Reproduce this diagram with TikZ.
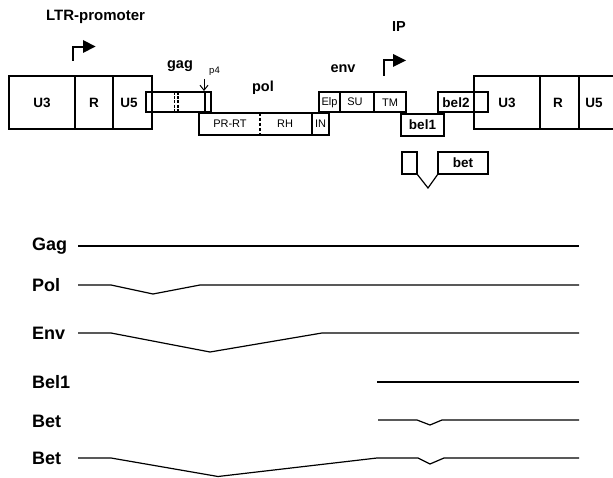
\documentclass[tikz,border=0pt]{standalone}
\usepackage{fontspec}
\setmainfont{Liberation Sans}
\usetikzlibrary{arrows.meta}
\tikzset{
  ln/.style={line width=1.2pt, line join=miter},
  bx/.style={line width=1.2pt},
  big/.style={font=\fontsize{15}{17}\selectfont\bfseries, inner sep=0pt},
  lab/.style={font=\fontsize{14.5}{17}\selectfont\bfseries, inner sep=0pt},
  blab/.style={font=\fontsize{13.5}{16}\selectfont\bfseries, inner sep=0pt},
  slab/.style={font=\fontsize{11}{13}\selectfont, inner sep=0pt},
  rowlab/.style={font=\fontsize{18}{20}\selectfont\bfseries, inner sep=0pt, anchor=west},
  tri/.style={fill=black, draw=none}
}
\begin{document}
\begin{tikzpicture}[x=1pt, y=-1pt]
\useasboundingbox (0,0) rectangle (613,478);
% ---- top labels
\node[big] (ltrp) at (95.5,17) {LTR-promoter};
\node[lab] (ipl) at (399,27) {IP};
\node[lab] (gagl) at (180,66) {gag};
\node[lab] (poll) at (263,88) {pol};
\node[lab] (envl) at (343,69) {env};
\node[font=\fontsize{9.5}{11}\selectfont, inner sep=0pt] (p4) at (214.5,71) {p4};
% ---- promoter arrows
\draw[ln] (73,61) -- (73,47) -- (84,47);
\fill[tri] (83,40) -- (95.5,46.5) -- (83,53) -- cycle;
\draw[ln] (384,76) -- (384,60) -- (394,60);
\fill[tri] (393,54) -- (406,60.5) -- (393,67) -- cycle;
% ---- left LTR
\draw[bx] (9,76) rectangle (152,129);
\draw[bx] (75,76) -- (75,129);
\draw[bx] (113,76) -- (113,129);
\node[blab] (u3a) at (42,102.5) {U3};
\node[blab] (ra) at (94,102.5) {R};
\node[blab] (u5a) at (129,102.5) {U5};
% ---- gag box
\draw[bx] (146,92) rectangle (211,112);
\draw[bx] (205,92) -- (205,112);
\draw[line width=1.1pt, dash pattern=on 3pt off 1.2pt] (174.5,92) -- (174.5,112);
\draw[line width=1.1pt, dash pattern=on 3pt off 1.2pt] (178,92) -- (178,112);
% p4 arrow
\coordinate (p4top) at (204,79);
\coordinate (p4tip) at (204,91);
\draw[line width=1pt, -{Straight Barb[length=5pt, width=8pt]}] (p4top) -- (p4tip);
% ---- pol box
\draw[bx] (199,113) rectangle (329,135);
\draw[line width=1.1pt, dash pattern=on 3pt off 2pt] (260,113) -- (260,135);
\draw[bx] (312,113) -- (312,135);
\node[slab] (prrt) at (230,124) {PR-RT};
\node[slab] (rh) at (285,124) {RH};
\node[slab] (in) at (320.5,124) {IN};
% ---- env box
\draw[bx] (319,92) rectangle (406,112);
\draw[bx] (340,92) -- (340,112);
\draw[bx] (374,92) -- (374,112);
\node[slab] (elp) at (329.5,102.5) {Elp};
\node[slab] (su) at (355,101.5) {SU};
\node[slab] (tm) at (390,102.5) {TM};
% ---- bel1, bel2
\draw[bx] (401,114) rectangle (444,136);
\node[blab] (bel1) at (422.5,125) {bel1};
\draw[bx] (438,92) rectangle (488,112);
\node[blab] (bel2) at (456,102.5) {bel2};
% ---- right LTR
\draw[bx] (614,76) -- (474,76) -- (474,129) -- (614,129);
\draw[bx] (540,76) -- (540,129);
\draw[bx] (579,76) -- (579,129);
\node[blab] (u3b) at (507,102.5) {U3};
\node[blab] (rb) at (558,102.5) {R};
\node[blab] (u5b) at (594,102.5) {U5};
% ---- bet exons
\draw[bx] (402,152) rectangle (417,174);
\draw[ln] (417,174) -- (428,188) -- (438,174);
\draw[bx] (438,152) rectangle (488,174);
\node[blab] (betx) at (463,163) {bet};
% ---- transcripts
\node[rowlab] (rgag) at (32,246.5) {Gag};
\node[rowlab] (rpol) at (32,285) {Pol};
\node[rowlab] (renv) at (32,333) {Env};
\node[rowlab] (rbel1) at (32,382) {Bel1};
\node[rowlab] (rbet1) at (32,421) {Bet};
\node[rowlab] (rbet2) at (32,458) {Bet};
\draw[ln] (78,246) -- (579,246);
\draw[ln] (78,285) -- (111,285) -- (153,294) -- (200,285) -- (579,285);
\draw[ln] (78,333) -- (111,333) -- (210,352) -- (322,333) -- (579,333);
\draw[ln] (377,382) -- (579,382);
\draw[ln] (378,420) -- (417,420) -- (430,425) -- (442,420) -- (579,420);
\draw[ln] (78,458) -- (111,458) -- (218,476.5) -- (377,458) -- (418,458) -- (430,464) -- (444,458) -- (579,458);
\end{tikzpicture}
\end{document}
